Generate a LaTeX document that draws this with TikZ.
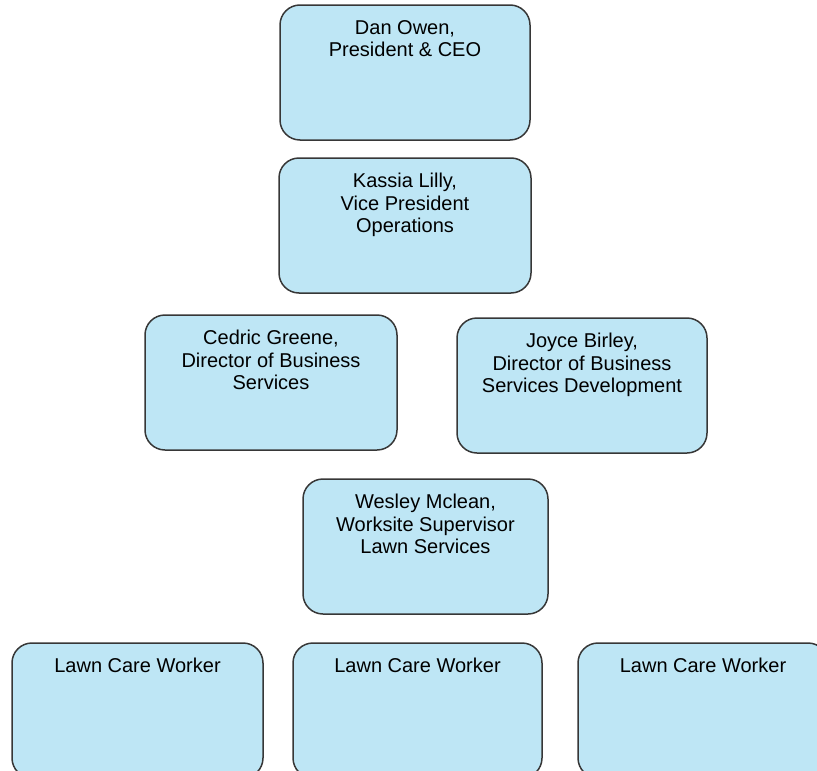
\documentclass[tikz,border=0pt]{standalone}
\usepackage{fontspec}
\setmainfont{Liberation Sans}
\definecolor{boxfill}{RGB}{190,230,245}
\definecolor{boxline}{RGB}{55,55,55}
\tikzset{
  orgbox/.style={draw=boxline, line width=1.5pt, fill=boxfill, rounded corners=20pt,
    minimum width=#1, minimum height=135pt, inner sep=0pt},
  orgbox/.default=250pt,
  boxtext/.style={anchor=north, align=center, inner sep=0pt, yshift=-16pt,
    font=\fontsize{20}{22.5}\selectfont, text=black}
}
\begin{document}
\begin{tikzpicture}[x=1pt,y=-1pt]
\clip (0,0) rectangle (817,771);
% top of the chart
\node[orgbox=250pt, label={[boxtext]north:Dan Owen,\\President \& CEO}] (owen) at (405,72.5) {};
\node[orgbox=252pt, label={[boxtext]north:Kassia Lilly,\\Vice President\\Operations}] (lilly) at (405,225.5) {};
% directors
\node[orgbox=252pt, label={[boxtext]north:Cedric Greene,\\Director of Business\\Services}] (greene) at (271,382.5) {};
\node[orgbox=250pt, label={[boxtext]north:Joyce Birley,\\Director of Business\\Services Development}] (birley) at (582,385.5) {};
% supervisor
\node[orgbox=245pt, label={[boxtext]north:Wesley Mclean,\\Worksite Supervisor\\Lawn Services}] (mclean) at (425.5,546.5) {};
% workers
\node[orgbox=251pt, label={[boxtext]north:Lawn Care Worker}] (worker1) at (137.5,710.5) {};
\node[orgbox=249pt, label={[boxtext]north:Lawn Care Worker}] (worker2) at (417.5,710.5) {};
\node[orgbox=250pt, label={[boxtext]north:Lawn Care Worker}] (worker3) at (703,710.5) {};
\end{tikzpicture}
\end{document}
